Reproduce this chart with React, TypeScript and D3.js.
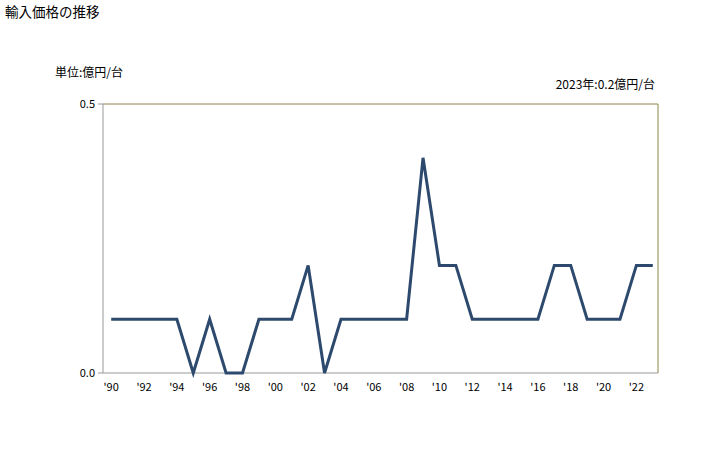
import React from "react";
import * as d3 from "d3";

const years = d3.range(1990, 2024);
const values = [0.1,0.1,0.1,0.1,0.1,0,0.1,0,0,0.1,0.1,0.1,0.2,0,0.1,0.1,0.1,0.1,0.1,0.4,0.2,0.2,0.1,0.1,0.1,0.1,0.1,0.2,0.2,0.1,0.1,0.1,0.2,0.2];
const yTicks = [0, 0.5];
const title = "輸入価格の推移";
const unitLabel = "単位:億円/台";
const noteLabel = "2023年:0.2億円/台";

const W = 728, H = 450;
const m = { left: 103, right: 658, top: 104, bottom: 373 };
const font = "'Noto Sans CJK JP', sans-serif";

export default function App() {
  const x = d3.scalePoint<number>().domain(years).range([m.left, m.right + 3]).padding(0.5);
  const y = d3.scaleLinear().domain([0, 0.5]).range([m.bottom, m.top]);
  const line = d3.line<number>().x((_, i) => x(years[i])!).y(d => y(d));
  return (
    <svg width={W} height={H} style={{ position: "absolute", left: 0, top: 0 }}>
      <rect width={W} height={H} fill="#fff" />
      <text x={5} y={17} fontSize={13.5} fontFamily={font} fill="#000">{title}</text>
      <text x={55} y={77} fontSize={12} fontFamily={font} fill="#000">{unitLabel}</text>
      <text x={655} y={89} fontSize={12} fontFamily={font} fill="#000" textAnchor="end">{noteLabel}</text>
      <path d={`M${m.left},${m.top}H${m.right}V${m.bottom}`} fill="none" stroke="#8c8549" strokeWidth={1} />
      <line x1={m.left} x2={m.left} y1={m.top} y2={m.bottom} stroke="#999" />
      <line x1={m.left} x2={m.right} y1={m.bottom} y2={m.bottom} stroke="#999" />
      {yTicks.map(t => (
        <g key={t}>
          <line x1={m.left - 5} x2={m.left} y1={y(t)} y2={y(t)} stroke="#999" />
          <text x={m.left - 8} y={y(t) + 4} fontSize={11} fontFamily={font} textAnchor="end" fill="#000">{t.toFixed(1)}</text>
        </g>
      ))}
      {years.filter(yr => yr % 2 === 0).map(yr => (
        <text key={yr} x={x(yr)!} y={391} fontSize={11} fontFamily={font} textAnchor="middle" fill="#000">{"'" + String(yr % 100).padStart(2, "0")}</text>
      ))}
      <path d={line(values)!} fill="none" stroke="#2d4a6e" strokeWidth={3} strokeLinejoin="miter" />
    </svg>
  );
}
